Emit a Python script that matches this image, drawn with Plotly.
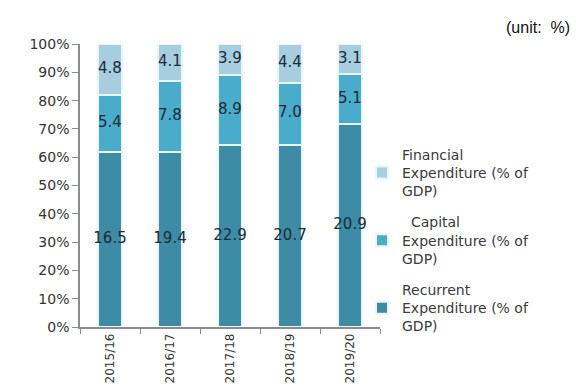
import plotly.graph_objects as go

years = ["2015/16", "2016/17", "2017/18", "2018/19", "2019/20"]
recurrent = [16.5, 19.4, 22.9, 20.7, 20.9]
capital = [5.4, 7.8, 8.9, 7.0, 5.1]
financial = [4.8, 4.1, 3.9, 4.4, 3.1]

series = [
    ("Recurrent<br>Expenditure (% of<br>GDP)", recurrent, "#3d8ba5"),
    ("\u00a0\u00a0Capital<br>Expenditure (% of<br>GDP)", capital, "#4aaccb"),
    ("Financial<br>Expenditure (% of<br>GDP)", financial, "#a6cde0"),
]

FONT = "DejaVu Sans"
fig = go.Figure()

for i, (name, vals, col) in enumerate(series):
    fig.add_trace(go.Bar(
        x=years, y=vals, name=name, legendgroup=f"g{i}",
        legendrank=3 - i,
        marker=dict(color=col, line=dict(color="#eaf6fb", width=2)),
        width=0.4, hoverinfo="skip",
    ))

# value labels centred in each stacked segment (shares of the yearly total)
totals = [r + c + f for r, c, f in zip(recurrent, capital, financial)]
base = [0.0] * len(years)
for name, vals, col in series:
    mids = []
    for j, v in enumerate(vals):
        share = 100.0 * v / totals[j]
        mids.append(base[j] + share / 2)
        base[j] += share
    fig.add_trace(go.Scatter(
        x=years, y=mids, mode="text",
        text=[f"{v:.1f}" for v in vals],
        textfont=dict(family=FONT, size=15, color="#1d2b38"),
        showlegend=False, hoverinfo="skip", cliponaxis=False,
    ))

fig.update_layout(
    width=576, height=387,
    barmode="stack", barnorm="percent",
    paper_bgcolor="white", plot_bgcolor="white",
    margin=dict(l=80, r=196, t=44, b=60, autoexpand=False),
    showlegend=True,
    legend=dict(
        x=0.94, xanchor="left", y=0.665, yanchor="top",
        traceorder="grouped", tracegroupgap=10,
        bgcolor="rgba(0,0,0,0)",
        font=dict(family=FONT, size=14, color="#3a3a3a"),
        itemwidth=30,
    ),
    xaxis=dict(
        type="category", range=[-0.5, 4.5], automargin=False,
        showline=True, linecolor="#8c8c8c", linewidth=1.5,
        ticks="outside", tickson="boundaries", ticklen=5, tickcolor="#8c8c8c",
        tickangle=-90, tickfont=dict(family=FONT, size=12, color="#333333"),
        showgrid=False,
    ),
    yaxis=dict(
        range=[0, 100], dtick=10, ticksuffix="%", automargin=False,
        showline=True, linecolor="#8c8c8c", linewidth=1.5,
        ticks="outside", ticklen=6, tickcolor="#8c8c8c",
        tickfont=dict(family=FONT, size=14, color="#333333"),
        showgrid=False, zeroline=False,
    ),
    annotations=[dict(
        text="(unit:  %)", xref="paper", yref="paper",
        x=(576 - 4 - 80) / 300, y=(327 - 17) / 283,
        xanchor="right", yanchor="top",
        showarrow=False,
        font=dict(family="Liberation Sans", size=16, color="#111111"),
    )],
)

fig.write_html("out.html")
